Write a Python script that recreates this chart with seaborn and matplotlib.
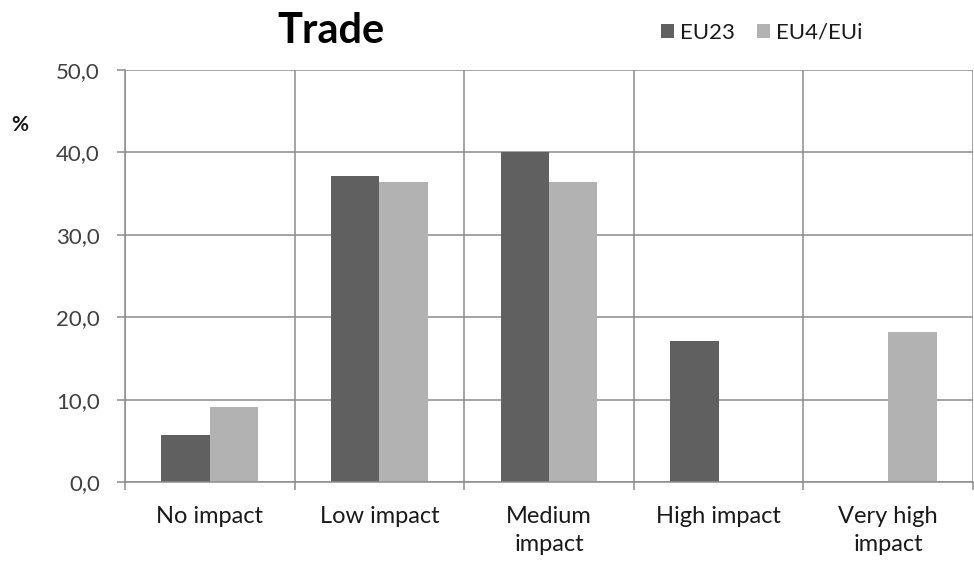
import matplotlib
matplotlib.use("Agg")
import matplotlib.pyplot as plt
import seaborn as sns
import pandas as pd
from matplotlib.patches import Patch
from matplotlib.ticker import FixedLocator, FuncFormatter

categories = ["No impact", "Low impact", "Medium\nimpact", "High impact", "Very high\nimpact"]
eu23 = [5.7, 37.1, 40.0, 17.1, 0.0]
eu4 = [9.1, 36.4, 36.4, 0.0, 18.2]
series = ["EU23", "EU4/EUi"]
colors = ["#606060", "#b2b2b2"]

df = pd.DataFrame({
    "category": categories * 2,
    "value": eu23 + eu4,
    "series": [series[0]] * len(categories) + [series[1]] * len(categories),
})

sns.set_theme(style="white")
plt.rcParams["font.family"] = ["Lato", "DejaVu Sans"]

fig = plt.figure(figsize=(9.74, 5.67), dpi=100)
ax = fig.add_axes([0.1283, 0.1499, 0.8707, 0.7266])

sns.barplot(data=df, x="category", y="value", hue="series", palette=colors,
            order=categories, hue_order=series, width=0.57, saturation=1,
            edgecolor="none", linewidth=0, legend=False, ax=ax)

ax.set_xlim(-0.5, len(categories) - 0.5)
ax.set_ylim(0, 50)
ax.set_yticks([0, 10, 20, 30, 40, 50])
ax.yaxis.set_major_formatter(FuncFormatter(lambda v, p: f"{v:.1f}".replace(".", ",")))
ax.xaxis.set_minor_locator(FixedLocator([i - 0.5 for i in range(len(categories) + 1)]))

grid_c = "#8c8c8c"
ax.grid(axis="y", which="major", color=grid_c, linewidth=1.1)
ax.grid(axis="x", which="minor", color=grid_c, linewidth=1.1)
ax.grid(axis="x", which="major", visible=False)
ax.set_axisbelow(True)

for side in ["top", "right"]:
    ax.spines[side].set_visible(False)
for side in ["left", "bottom"]:
    ax.spines[side].set_color(grid_c)
    ax.spines[side].set_linewidth(1.1)

ax.tick_params(axis="y", which="major", left=True, length=6, width=1.1, color=grid_c,
               labelsize=16, labelcolor="#404040", pad=12)
ax.tick_params(axis="x", which="major", bottom=False, labelsize=17, labelcolor="#1a1a1a", pad=11)
ax.tick_params(axis="x", which="minor", bottom=True, length=6, width=1.1, color=grid_c)
for lbl in ax.get_xticklabels():
    lbl.set_linespacing(1.45)
ax.set_xlabel("")
ax.set_ylabel("")

fig.text(0.012, 0.78, "%", fontsize=15, fontweight="bold", color="#1a1a1a", ha="left", va="center")
fig.text(0.340, 0.945, "Trade", fontsize=30, fontweight="bold", color="black", ha="center", va="center")

handles = [Patch(facecolor=c, edgecolor="none") for c in colors]
fig.legend(handles, series, loc="center left", bbox_to_anchor=(0.679, 0.942), ncol=2,
           frameon=False, fontsize=16, handlelength=0.55, handleheight=0.6,
           handletextpad=0.3, columnspacing=1.0, labelcolor="#1a1a1a",
           borderaxespad=0, borderpad=0)

fig.savefig("out.png", dpi=100)
